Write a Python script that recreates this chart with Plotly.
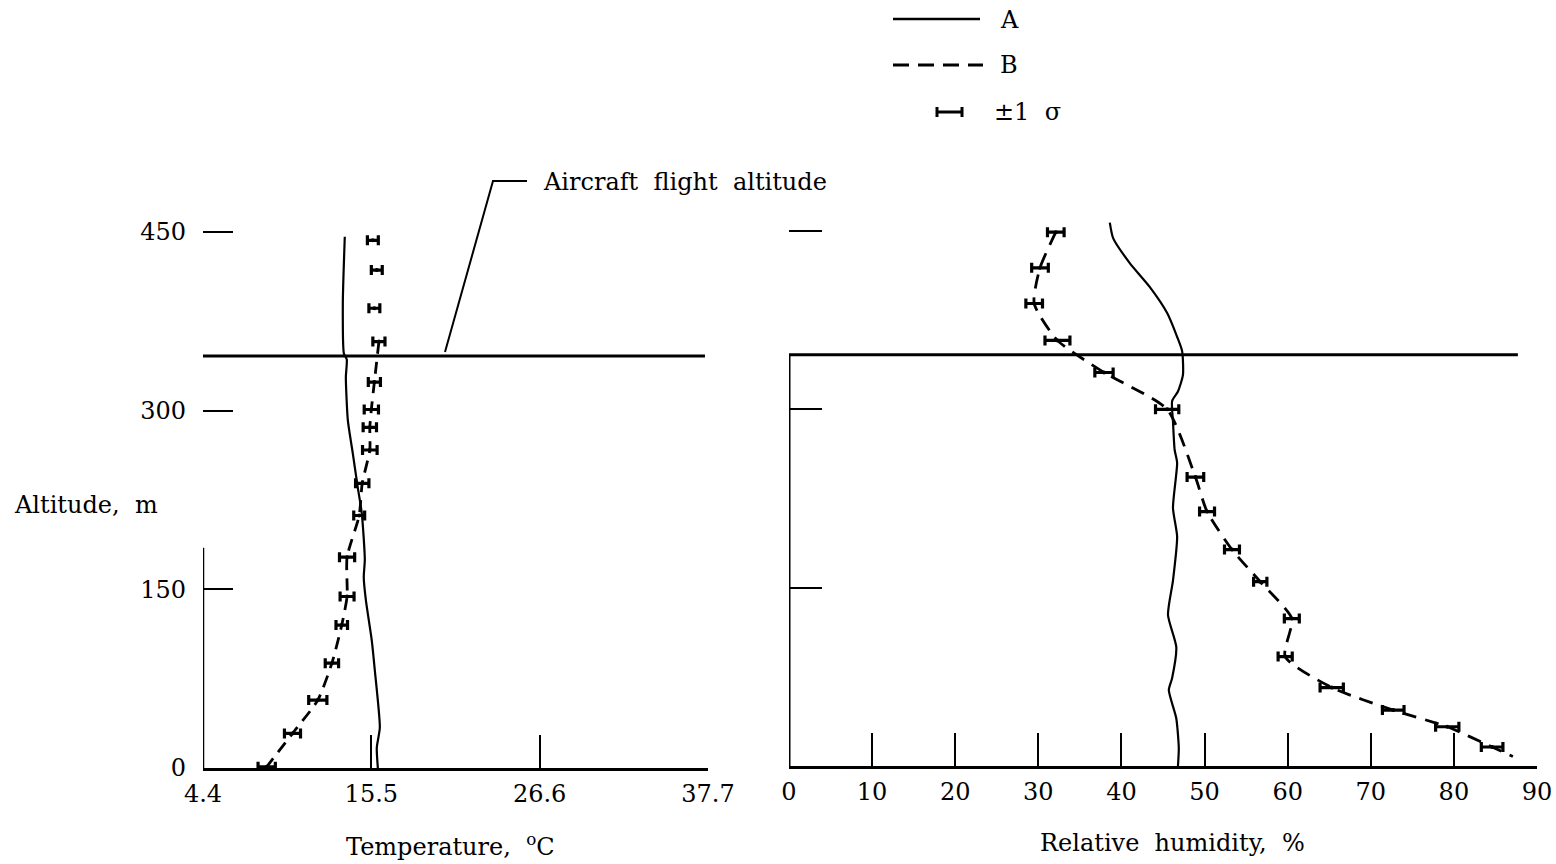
import plotly.graph_objects as go

# ---------------- data ----------------
# Temperature profile, curve A (solid)
temp_a_alt = [446, 390, 348, 343, 328, 292, 264, 236, 214, 175, 160, 141, 107, 82, 34, 17, 0]
temp_a_val = [13.75, 13.62, 13.69, 13.88, 13.82, 13.95, 14.28, 14.6, 14.87, 15.07, 15.0, 15.14,
              15.53, 15.73, 16.06, 15.86, 15.93]

# Temperature profile, curve B (dashed) with +/-1 sigma
temp_b_alt = [443, 418, 386, 358, 324, 301, 286, 267, 239, 212, 177, 144, 120, 88, 57, 29, 1]
temp_b_val = [15.6, 15.86, 15.7, 16.0, 15.7, 15.5, 15.4, 15.4, 14.9, 14.7, 13.9, 13.9, 13.55,
              12.9, 11.97, 10.3, 8.6]
temp_b_sig = [0.36, 0.36, 0.36, 0.4, 0.4, 0.47, 0.44, 0.48, 0.44, 0.36, 0.5, 0.46, 0.38, 0.44,
              0.6, 0.53, 0.57]
temp_b_line_start = 3  # dashed curve is drawn from this level downward

# Relative humidity, curve A (solid)
rh_a_alt = [457, 444, 423, 403, 381, 361, 349, 329, 315, 307, 290, 266, 255, 217, 193, 156, 127,
            100, 74, 64, 40, 15, 0]
rh_a_val = [38.6, 39.0, 41.0, 43.4, 45.5, 46.7, 47.3, 47.4, 46.8, 46.1, 46.2, 46.4, 46.7, 46.2,
            46.7, 46.2, 45.6, 46.6, 46.1, 45.7, 46.6, 46.9, 46.8]

# Relative humidity, curve B (dashed) with +/-1 sigma
rh_b_alt = [449, 419, 389, 358, 331, 300, 243, 214, 182, 155, 124, 92, 66, 47, 33, 16]
rh_b_val = [32.1, 30.2, 29.5, 32.3, 37.9, 45.5, 48.9, 50.3, 53.3, 56.7, 60.5, 59.7, 65.3, 72.7,
            79.2, 84.6]
rh_b_sig = [1.0, 1.0, 1.0, 1.5, 1.1, 1.4, 1.0, 0.9, 0.9, 0.8, 0.9, 0.85, 1.4, 1.3, 1.4, 1.3]
rh_b_end_alt = 8
rh_b_end_val = 87.1

flight_alt = 346

temp_ticks = [4.4, 15.5, 26.6, 37.7]
rh_ticks = [0, 10, 20, 30, 40, 50, 60, 70, 80, 90]
alt_ticks = [0, 150, 300, 450]

# ---------------- page geometry ----------------
W, H = 1556, 864
FONT = "DejaVu Serif"


def px(x):
    return x / W


def py(y):
    return 1 - y / H


Y_TOP = 470  # top of altitude range (m)
# left panel: 0 m at y=768, 450 m at y=232 ; right: 0 m at y=766, 450 m at y=231
l_scale = (768 - 232) / 450
r_scale = (766 - 231) / 450
l_dom_y = [py(768), py(768 - Y_TOP * l_scale)]
r_dom_y = [py(766), py(766 - Y_TOP * r_scale)]

fig = go.Figure()

ink = "black"
err_style = dict(type="data", visible=True, thickness=3.2, width=5, color=ink)

# temperature panel
fig.add_trace(go.Scatter(x=temp_a_val, y=temp_a_alt, mode="lines", xaxis="x", yaxis="y",
                         line=dict(color=ink, width=2.2, shape="spline", smoothing=0.6),
                         showlegend=False, hoverinfo="skip"))
fig.add_trace(go.Scatter(x=temp_b_val[temp_b_line_start:], y=temp_b_alt[temp_b_line_start:],
                         mode="lines", xaxis="x", yaxis="y",
                         line=dict(color=ink, width=2.8, dash="12px,8px", shape="spline",
                                   smoothing=0.6),
                         showlegend=False, hoverinfo="skip"))
fig.add_trace(go.Scatter(x=temp_b_val, y=temp_b_alt, mode="markers", xaxis="x", yaxis="y",
                         marker=dict(color=ink, size=4),
                         error_x=dict(array=temp_b_sig, **err_style),
                         showlegend=False, cliponaxis=False))

# humidity panel
fig.add_trace(go.Scatter(x=rh_a_val, y=rh_a_alt, mode="lines", xaxis="x2", yaxis="y2",
                         line=dict(color=ink, width=2.2, shape="spline", smoothing=0.6),
                         showlegend=False, hoverinfo="skip"))
fig.add_trace(go.Scatter(x=rh_b_val + [rh_b_end_val], y=rh_b_alt + [rh_b_end_alt],
                         mode="lines", xaxis="x2", yaxis="y2",
                         line=dict(color=ink, width=2.8, dash="14px,9px", shape="spline",
                                   smoothing=0.6),
                         showlegend=False, hoverinfo="skip"))
fig.add_trace(go.Scatter(x=rh_b_val, y=rh_b_alt, mode="markers", xaxis="x2", yaxis="y2",
                         marker=dict(color=ink, size=4),
                         error_x=dict(array=rh_b_sig, **err_style),
                         showlegend=False, cliponaxis=False))

tick_font = dict(family=FONT, size=24, color=ink)
common_x = dict(showgrid=False, zeroline=False, showline=True, linecolor=ink, linewidth=2.5,
                ticks="inside", ticklen=33, tickwidth=2, tickcolor=ink, tickfont=tick_font,
                mirror=False, fixedrange=True, automargin=False)
common_y = dict(showgrid=False, zeroline=False, showline=False, ticks="inside",
                tickwidth=2, tickcolor=ink, tickfont=tick_font, fixedrange=True,
                range=[0, Y_TOP], tickvals=alt_ticks, automargin=False)

fig.update_layout(
    width=W, height=H, autosize=False,
    margin=dict(l=0, r=0, t=0, b=0, pad=0, autoexpand=False),
    paper_bgcolor="white", plot_bgcolor="white",
    font=dict(family=FONT, color=ink),
    xaxis=dict(domain=[px(203), px(708)], range=[4.4, 37.7], tickvals=temp_ticks,
               ticktext=[f"{v:.1f}" for v in temp_ticks], anchor="y",
               ticklabelstandoff=2, **common_x),
    yaxis=dict(domain=l_dom_y, anchor="x", ticklen=30, ticklabelstandoff=16,
               showticklabels=True, **common_y),
    xaxis2=dict(domain=[px(789), px(1537)], range=[0, 90], tickvals=rh_ticks, anchor="y2",
                ticklabelstandoff=2, **common_x),
    yaxis2=dict(domain=r_dom_y, anchor="x2", ticklen=33, showticklabels=False, **common_y),
)

shapes = []
# partial vertical axis lines
shapes.append(dict(type="line", xref="x", yref="y", x0=4.4, x1=4.4, y0=0, y1=185,
                   line=dict(color=ink, width=2.5)))
shapes.append(dict(type="line", xref="x2", yref="y2", x0=0, x1=0, y0=0, y1=flight_alt,
                   line=dict(color=ink, width=3)))
# aircraft flight altitude
shapes.append(dict(type="line", xref="x", yref="y", x0=4.4, x1=37.5, y0=flight_alt,
                   y1=flight_alt, line=dict(color=ink, width=3)))
shapes.append(dict(type="line", xref="x2", yref="y2", x0=-0.3, x1=87.7, y0=flight_alt,
                   y1=flight_alt, line=dict(color=ink, width=3)))
# leader line of the flight-altitude label
shapes.append(dict(type="path", xref="paper", yref="paper",
                   path=f"M {px(445)},{py(352)} L {px(493)},{py(181)} L {px(527)},{py(181)}",
                   line=dict(color=ink, width=2)))
# key
shapes.append(dict(type="line", xref="paper", yref="paper", x0=px(893), x1=px(980),
                   y0=py(19), y1=py(19), line=dict(color=ink, width=2.5)))
shapes.append(dict(type="line", xref="paper", yref="paper", x0=px(893), x1=px(983),
                   y0=py(65), y1=py(65), line=dict(color=ink, width=2.8, dash="16px,9px")))
shapes.append(dict(type="line", xref="paper", yref="paper", x0=px(937), x1=px(962),
                   y0=py(112), y1=py(112), line=dict(color=ink, width=3)))
for cx in (937, 962):
    shapes.append(dict(type="line", xref="paper", yref="paper", x0=px(cx), x1=px(cx),
                       y0=py(107), y1=py(117), line=dict(color=ink, width=3)))
fig.update_layout(shapes=shapes)

text_font = dict(family=FONT, size=24, color=ink)


def label(text, x, y, xanchor="left"):
    return dict(text=text, xref="paper", yref="paper", x=px(x), y=py(y), xanchor=xanchor,
                yanchor="middle", showarrow=False, font=text_font)


fig.update_layout(annotations=[
    label("A", 998, 20),
    label("B", 998, 65),
    label("\u00b11  \u03c3", 992, 112),
    label("Aircraft  flight  altitude", 541, 182),
    label("Altitude,  m", 12, 505),
    label("Temperature,  <sup>o</sup>C", 450, 845, "center"),
    label("Relative  humidity,  %", 1172, 843, "center"),
])

fig.write_html("out.html")
